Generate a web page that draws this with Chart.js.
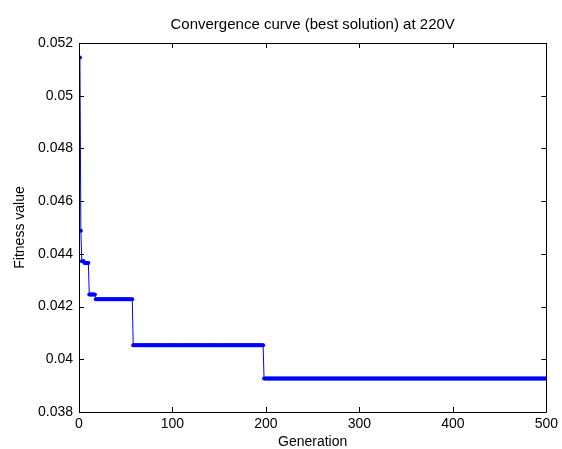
<!DOCTYPE html>
<html>
<head>
<meta charset="utf-8">
<script src="https://cdn.jsdelivr.net/npm/chart.js@4/dist/chart.umd.min.js"></script>
<style>
  html, body { margin: 0; padding: 0; background: #fff; }
  #wrap { width: 562px; height: 449px; position: relative; }
</style>
</head>
<body>
<div id="wrap"><canvas id="myChart" width="562" height="449"></canvas></div>
<script>
// data: generation where each level starts, and its fitness value
const stepStart = [1, 2, 3, 6, 11, 18, 58, 198];
const stepValue = [0.05145, 0.04488, 0.04372, 0.04365, 0.04246, 0.04228, 0.04053, 0.03927];
const lastGeneration = 500;
const yTicks = [0.038, 0.04, 0.042, 0.044, 0.046, 0.048, 0.05, 0.052];
const xTicks = [0, 100, 200, 300, 400, 500];
const chartTitle = 'Convergence curve (best solution) at 220V';

// one point per generation (best-so-far stays flat until the next level)
function buildCurve(){
    var pts = [];
    for (var i = 0; i < stepStart.length; i++) {
        var end = i + 1 < stepStart.length ? stepStart[i + 1] - 1 : lastGeneration;
        for (var g = stepStart[i]; g <= end; g++) {
            pts.push({ x: g, y: stepValue[i] });
        }
    }
    return pts;
}

const FONT = "'Liberation Sans', Arial, sans-serif";
Chart.defaults.font.family = FONT;
Chart.defaults.color = '#000';

// MATLAB style box with inward ticks on all four sides, title centred over the axes
const boxPlugin = {
    id: 'box',
    afterDraw(chart){
        const ctx = chart.ctx;
        const a = chart.chartArea;
        const xs = chart.scales.x, ys = chart.scales.y;
        ctx.save();
        ctx.strokeStyle = '#000';
        ctx.lineWidth = 1;
        ctx.beginPath();
        ctx.rect(Math.round(a.left) + 0.5, Math.round(a.top) + 0.5,
                 Math.round(a.right - a.left), Math.round(a.bottom - a.top));
        xTicks.forEach(function(v){
            var px = Math.round(xs.getPixelForValue(v)) + 0.5;
            ctx.moveTo(px, a.bottom); ctx.lineTo(px, a.bottom - 5);
            ctx.moveTo(px, a.top); ctx.lineTo(px, a.top + 5);
        });
        yTicks.forEach(function(v){
            var py = Math.round(ys.getPixelForValue(v)) + 0.5;
            ctx.moveTo(a.left, py); ctx.lineTo(a.left + 5, py);
            ctx.moveTo(a.right, py); ctx.lineTo(a.right - 5, py);
        });
        ctx.stroke();

        ctx.fillStyle = '#000';
        ctx.font = '15px ' + FONT;
        ctx.textAlign = 'center';
        ctx.textBaseline = 'middle';
        ctx.fillText(chartTitle, (a.left + a.right) / 2, 25);
        ctx.restore();
    }
};

const ctx = document.getElementById('myChart').getContext('2d');
new Chart(ctx, {
    type: 'line',
    data: {
        datasets: [{
            data: buildCurve(),
            borderColor: '#0000ff',
            borderWidth: 1,
            backgroundColor: '#0000ff',
            pointRadius: 2,
            pointBorderWidth: 0,
            pointBackgroundColor: '#0000ff',
            tension: 0,
            fill: false
        }]
    },
    options: {
        responsive: false,
        animation: false,
        layout: { padding: { top: 43, right: 15, bottom: 0, left: 0 } },
        plugins: {
            legend: { display: false },
            tooltip: { enabled: false },
            title: { display: false }
        },
        scales: {
            x: {
                type: 'linear',
                min: 0,
                max: 500,
                afterFit: function(scale){ scale.height = 37; },
                afterBuildTicks: function(scale){ scale.ticks = xTicks.map(function(v){ return { value: v }; }); },
                grid: { display: false, drawTicks: false },
                border: { display: false },
                ticks: { font: { size: 14 }, padding: 4, maxRotation: 0, autoSkip: false },
                title: { display: true, text: 'Generation', font: { size: 14 }, padding: { top: 0, bottom: -2 } }
            },
            y: {
                type: 'linear',
                min: 0.038,
                max: 0.052,
                afterFit: function(scale){ scale.width = 79; },
                afterBuildTicks: function(scale){ scale.ticks = yTicks.map(function(v){ return { value: v }; }); },
                grid: { display: false, drawTicks: false },
                border: { display: false },
                ticks: {
                    font: { size: 14 },
                    padding: 6,
                    autoSkip: false,
                    callback: function(v){ return String(Number(v.toFixed(3))); }
                },
                title: { display: true, text: 'Fitness value', font: { size: 14 }, padding: { top: 12, bottom: 0 } }
            }
        }
    },
    plugins: [boxPlugin]
});
</script>
</body>
</html>
